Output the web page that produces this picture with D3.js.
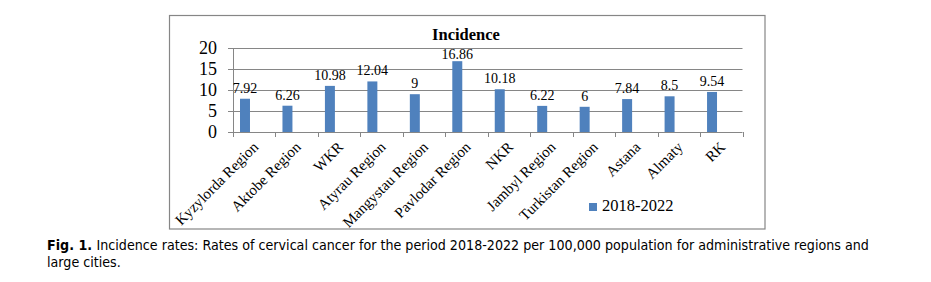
<!DOCTYPE html>
<html lang="en">
<head>
    <meta charset="UTF-8">
    <title>Incidence</title>
    <script src="https://d3js.org/d3.v7.min.js"></script>
    <style>
        body { margin: 0; background: #fff; }
        .serif { font-family: 'Liberation Serif', 'Times New Roman', serif; fill: #000; }
        .caption { font-family: 'DejaVu Sans', Verdana, sans-serif; font-size: 14.5px; fill: #000; }
    </style>
</head>
<body>
    <svg id="chart" width="931" height="282"></svg>
    <script>
        const categories = ["Kyzylorda Region", "Aktobe Region", "WKR", "Atyrau Region", "Mangystau Region",
                            "Pavlodar Region", "NKR", "Jambyl Region", "Turkistan Region", "Astana", "Almaty", "RK"];
        const values = [7.92, 6.26, 10.98, 12.04, 9, 16.86, 10.18, 6.22, 6, 7.84, 8.5, 9.54];
        const labels = ["7.92", "6.26", "10.98", "12.04", "9", "16.86", "10.18", "6.22", "6", "7.84", "8.5", "9.54"];
        const yTicks = [0, 5, 10, 15, 20];
        const seriesName = "2018-2022";

        const svg = d3.select("#chart");
        const plot = { left: 233, right: 742.5, top: 48, bottom: 132 };
        const barColor = "#4f81bd";
        const lineColor = "#868686";

        // outer chart frame
        svg.append("rect")
           .attr("x", 169.5).attr("y", 15.5)
           .attr("width", 595.5).attr("height", 213.5)
           .attr("fill", "none").attr("stroke", lineColor).attr("stroke-width", 1.2);

        const x = d3.scaleBand().domain(categories).range([plot.left, plot.right]);
        const y = d3.scaleLinear().domain([0, 20]).range([plot.bottom, plot.top]);

        // gridlines
        svg.append("g").selectAll("line").data(yTicks).enter().append("line")
           .attr("x1", plot.left - 5).attr("x2", plot.right)
           .attr("y1", d => Math.round(y(d)) + 0.5).attr("y2", d => Math.round(y(d)) + 0.5)
           .attr("stroke", lineColor);

        // y axis line
        svg.append("line")
           .attr("x1", plot.left + 0.5).attr("x2", plot.left + 0.5)
           .attr("y1", y(20)).attr("y2", y(0))
           .attr("stroke", lineColor);

        // x tick marks
        const xTickPos = categories.map(c => x(c)).concat([plot.right]);
        svg.append("g").selectAll("line").data(xTickPos).enter().append("line")
           .attr("x1", d => Math.round(d) + 0.5).attr("x2", d => Math.round(d) + 0.5)
           .attr("y1", y(0)).attr("y2", y(0) + 5)
           .attr("stroke", lineColor);

        // y labels
        svg.append("g").selectAll("text").data(yTicks).enter().append("text")
           .attr("class", "serif")
           .attr("x", 217).attr("y", d => y(d) + 6)
           .attr("text-anchor", "end")
           .style("font-size", "18px")
           .text(d => d);

        // bars
        const bw = x.bandwidth();
        svg.append("g").selectAll("rect").data(values).enter().append("rect")
           .attr("x", (d, i) => x(categories[i]) + bw * 0.165)
           .attr("y", d => y(d))
           .attr("width", bw * 0.235)
           .attr("height", d => y(0) - y(d))
           .attr("fill", barColor);

        // value labels (kept inside the plot area, like excel does)
        svg.append("g").selectAll("text").data(values).enter().append("text")
           .attr("class", "serif")
           .attr("x", (d, i) => x(categories[i]) + bw * 0.2825)
           .attr("y", d => Math.max(y(d) - 6, plot.top + 11))
           .attr("text-anchor", "middle")
           .style("font-size", "14px")
           .text((d, i) => labels[i]);

        // category labels
        svg.append("g").selectAll("text").data(categories).enter().append("text")
           .attr("class", "serif")
           .attr("text-anchor", "end")
           .attr("transform", d => `translate(${x(d) + bw / 2 + 5},${y(0) + 16}) rotate(-45)`)
           .style("font-size", "15px")
           .text(d => d);

        // title
        svg.append("text")
           .attr("class", "serif")
           .attr("x", 466).attr("y", 40)
           .attr("text-anchor", "middle")
           .style("font-size", "16.5px").style("font-weight", "bold")
           .text("Incidence");

        // legend
        svg.append("rect")
           .attr("x", 589).attr("y", 203).attr("width", 8).attr("height", 8)
           .attr("fill", barColor);
        svg.append("text")
           .attr("class", "serif")
           .attr("x", 602).attr("y", 211)
           .style("font-size", "16.5px")
           .text(seriesName);

        // figure caption: squeeze the sans font horizontally to the original line width
        const capLeft = 47, capRight = 870, gap = 5;
        const cap = svg.append("g");
        const figLabel = cap.append("text").attr("class", "caption")
           .attr("x", 0).attr("y", 250)
           .style("font-weight", "bold")
           .text("Fig. 1.");
        const w1 = figLabel.node().getComputedTextLength();
        const capRest = cap.append("text").attr("class", "caption")
           .attr("x", w1 + gap).attr("y", 250)
           .text("Incidence rates: Rates of cervical cancer for the period 2018-2022 per 100,000 population for administrative regions and");
        cap.append("text").attr("class", "caption")
           .attr("x", 0).attr("y", 267)
           .text("large cities.");
        const w2 = capRest.node().getComputedTextLength();
        const s = (capRight - capLeft) / (w1 + gap + w2);
        cap.attr("transform", `translate(${capLeft},0) scale(${s},1)`);
    </script>
</body>
</html>
